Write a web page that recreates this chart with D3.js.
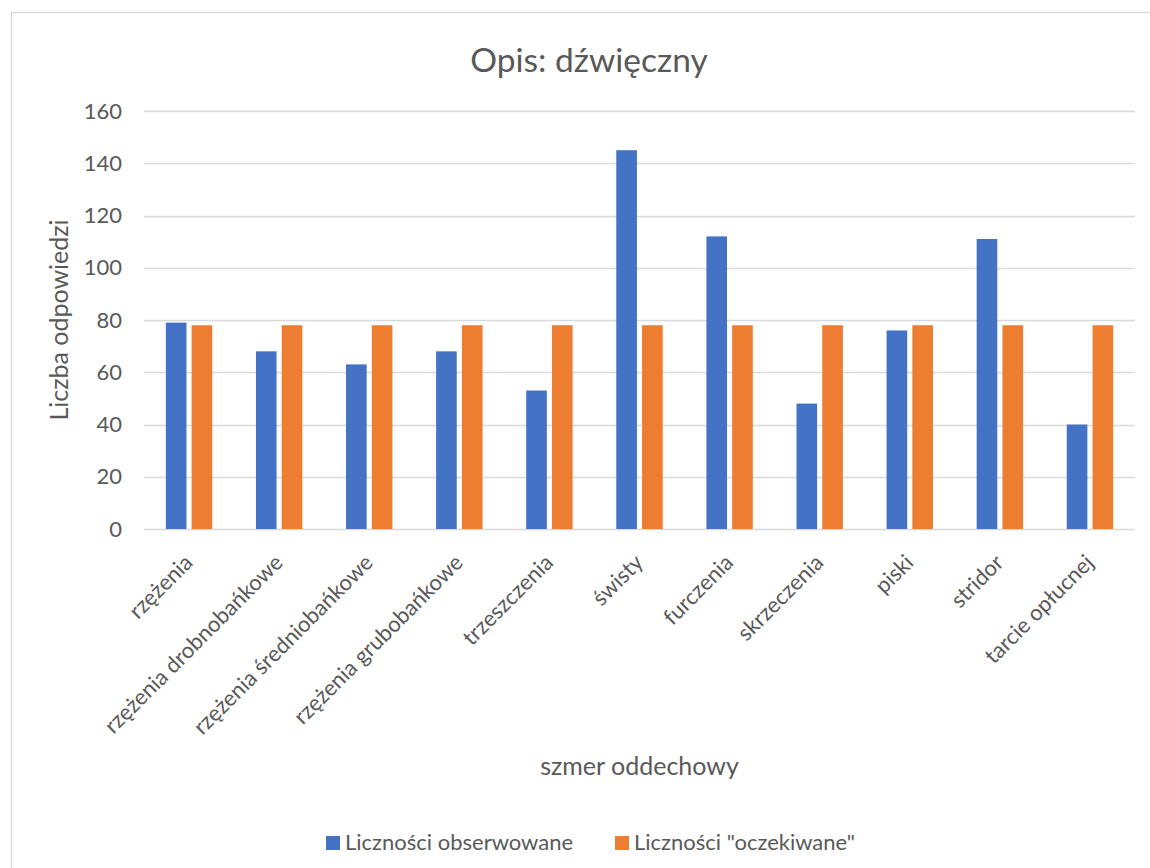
<!DOCTYPE html>
<html>
<head>
<meta charset="utf-8">
<script src="https://cdn.jsdelivr.net/npm/d3@7"></script>
<style>
  html, body { margin: 0; padding: 0; background: #fff; }
  text { font-family: Lato, "Open Sans", sans-serif; fill: #595959; }
</style>
</head>
<body>
<svg id="chart" width="1150" height="868"></svg>
<script>
const categories = ["rzężenia", "rzężenia drobnobańkowe", "rzężenia średniobańkowe", "rzężenia grubobańkowe", "trzeszczenia", "świsty", "furczenia", "skrzeczenia", "piski", "stridor", "tarcie opłucnej"];
const observed = [79, 68, 63, 68, 53, 145, 112, 48, 76, 111, 40];
const expected = [78, 78, 78, 78, 78, 78, 78, 78, 78, 78, 78];
const seriesNames = ["Liczności obserwowane", "Liczności \"oczekiwane\""];
const seriesColors = ["#4472C4", "#ED7D31"];
const yTicks = [0, 20, 40, 60, 80, 100, 120, 140, 160];
const titleText = "Opis: dźwięczny";
const xTitle = "szmer oddechowy";
const yTitle = "Liczba odpowiedzi";

const svg = d3.select("#chart");
const W = 1150, H = 868;
const FONT = "Lato, 'Open Sans', sans-serif";
svg.append("rect").attr("width", W).attr("height", H).attr("fill", "#fff");
svg.append("rect").attr("x", 11.5).attr("y", 12.5).attr("width", 1200).attr("height", 1000)
  .attr("fill", "none").attr("stroke", "#d9d9d9").attr("stroke-width", 1.3);

const plot = { left: 144, right: 1135, top: 111, bottom: 529 };

const x0 = d3.scaleBand().domain(categories).range([plot.left, plot.right]).padding(0);
const y = d3.scaleLinear().domain([0, 160]).range([plot.bottom, plot.top]);

// gridlines
svg.append("g").selectAll("line").data(yTicks).join("line")
  .attr("x1", plot.left).attr("x2", plot.right)
  .attr("y1", d => Math.round(y(d)) + 0.5).attr("y2", d => Math.round(y(d)) + 0.5)
  .attr("stroke", "#d9d9d9").attr("stroke-width", 1.3);

// y axis labels
const yAxis = d3.axisLeft(y).tickValues(yTicks).tickSize(0).tickPadding(0);
const gy = svg.append("g").attr("transform", `translate(${122},0)`).call(yAxis);
gy.select(".domain").remove();
gy.selectAll("text").attr("font-size", "22px").attr("fill", "#595959")
  .style("font-family", FONT);

// bars
const series = [observed, expected];
const groupHalf = 23.2;
categories.forEach((c, i) => {
  const cx = x0(c) + x0.bandwidth() / 2;
  const x1 = d3.scaleBand().domain([0, 1]).range([cx - groupHalf, cx + groupHalf]).paddingInner(0.2);
  series.forEach((s, k) => {
    svg.append("rect")
      .attr("x", x1(k)).attr("width", x1.bandwidth())
      .attr("y", y(s[i])).attr("height", y(0) - y(s[i]))
      .attr("fill", seriesColors[k]);
  });
});

// x labels
const xAxis = d3.axisBottom(x0).tickSize(0).tickPadding(0);
const gx = svg.append("g").attr("transform", `translate(0,${plot.bottom})`).call(xAxis);
gx.select(".domain").remove();
gx.selectAll(".tick text")
  .attr("font-size", "22px").attr("fill", "#595959")
  .style("font-family", FONT)
  .attr("text-anchor", "end")
  .attr("x", 0).attr("y", 0).attr("dy", 0)
  .attr("transform", "translate(5,35) rotate(-45)");

// title
svg.append("text").attr("x", 589).attr("y", 72).attr("text-anchor", "middle")
  .attr("font-size", "33.5px").text(titleText);

// axis titles
svg.append("text").attr("x", (plot.left + plot.right) / 2).attr("y", 775).attr("text-anchor", "middle")
  .attr("font-size", "25px").text(xTitle);
svg.append("text").attr("transform", `translate(68,${(plot.top + plot.bottom) / 2}) rotate(-90)`)
  .attr("text-anchor", "middle").attr("font-size", "25px").text(yTitle);

// legend
const legend = svg.append("g");
const legX = [326, 615];
seriesNames.forEach((n, k) => {
  legend.append("rect").attr("x", legX[k]).attr("y", 836).attr("width", 14).attr("height", 14)
    .attr("fill", seriesColors[k]);
  legend.append("text").attr("x", legX[k] + 19).attr("y", 850).attr("font-size", "22px").text(n);
});
</script>
</body>
</html>
